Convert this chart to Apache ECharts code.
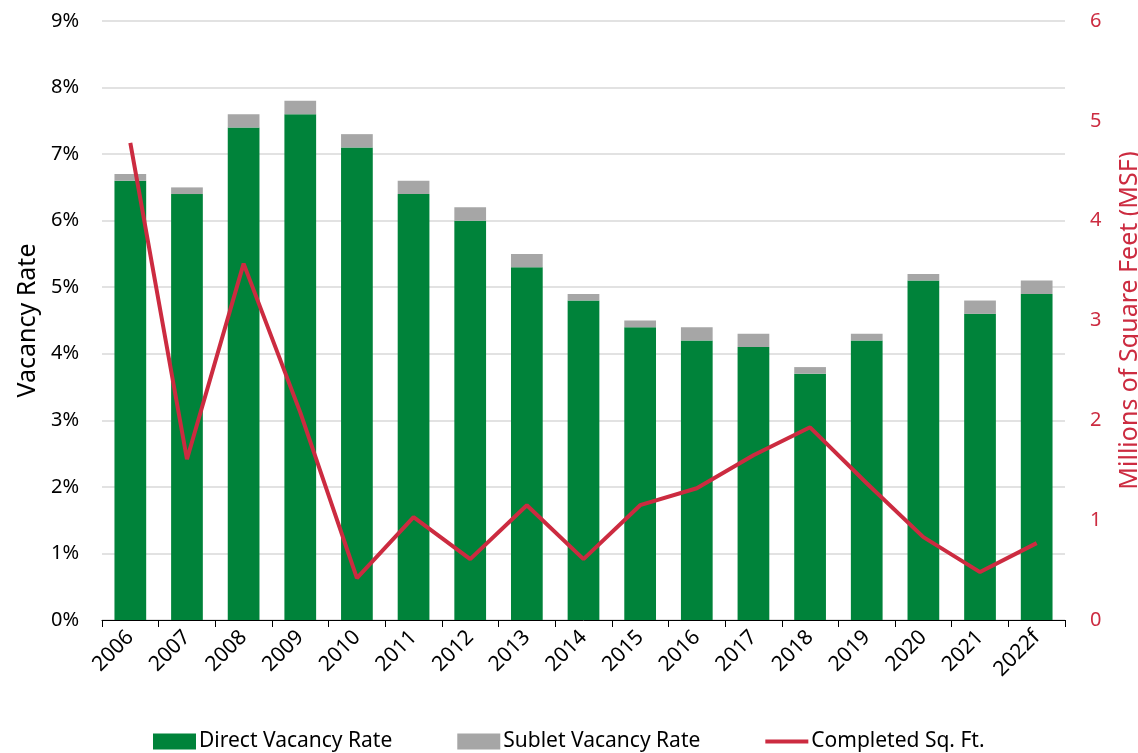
<!DOCTYPE html>
<html>
<head>
<meta charset="utf-8">
<title>Vacancy Rate and Completions</title>
<script src="https://cdn.jsdelivr.net/npm/echarts@6/dist/echarts.min.js"></script>
<style>
  html, body { margin: 0; padding: 0; background: #ffffff; }
  #chart { width: 1138px; height: 753px; }
</style>
</head>
<body>
<div id="chart"></div>
<script>
// Years (2022 is a forecast)
const years = ['2006','2007','2008','2009','2010','2011','2012','2013','2014','2015','2016','2017','2018','2019','2020','2021','2022f'];

// Vacancy rates, percent
const directVacancy = [6.6, 6.4, 7.4, 7.6, 7.1, 6.4, 6.0, 5.3, 4.8, 4.4, 4.2, 4.1, 3.7, 4.2, 5.1, 4.6, 4.9];
const subletVacancy = [0.1, 0.1, 0.2, 0.2, 0.2, 0.2, 0.2, 0.2, 0.1, 0.1, 0.2, 0.2, 0.1, 0.1, 0.1, 0.2, 0.2];

// Completed space, millions of square feet
const completedMSF = [4.78, 1.61, 3.57, 2.08, 0.42, 1.03, 0.61, 1.15, 0.61, 1.15, 1.32, 1.65, 1.93, 1.37, 0.83, 0.48, 0.77];

const FONT = '"Noto Sans", "Open Sans", sans-serif';
const GREEN = '#00833A';
const GREY = '#A6A6A6';
const RED = '#CC2B40';

const chart = echarts.init(document.getElementById('chart'), null, { renderer: 'canvas' });

chart.setOption({
  animation: false,
  backgroundColor: '#ffffff',
  textStyle: { fontFamily: FONT },
  grid: { left: 102, right: 73, top: 21, bottom: 133, containLabel: false, outerBoundsMode: 'none' },
  legend: {
    top: 731,
    left: 153,
    padding: 0,
    itemWidth: 43,
    itemHeight: 16,
    itemGap: 65,
    textStyle: { fontFamily: FONT, fontSize: 21, lineHeight: 18, color: '#000000', padding: [0, 0, 0, -2] },
    data: [
      { name: 'Direct Vacancy Rate', icon: 'rect' },
      { name: 'Sublet Vacancy Rate', icon: 'rect' },
      { name: 'Completed Sq. Ft.', icon: 'path://M0,0 L43,0 L43,4 L0,4 Z', itemStyle: { color: RED } }
    ]
  },
  xAxis: {
    type: 'category',
    data: years,
    boundaryGap: true,
    axisLine: { show: true, lineStyle: { color: '#000000', width: 1 } },
    axisTick: { show: true, alignWithLabel: false, length: 7, lineStyle: { color: '#000000' } },
    axisLabel: { rotate: 45, fontSize: 21, color: '#000000', fontFamily: FONT, margin: 14, interval: 0 },
    splitLine: { show: false }
  },
  yAxis: [
    {
      type: 'value',
      min: 0,
      max: 9,
      interval: 1,
      name: 'Vacancy Rate',
      nameLocation: 'middle',
      nameGap: 60,
      nameRotate: 90,
      nameTextStyle: { fontSize: 25, color: '#000000', fontFamily: FONT },
      axisLine: { show: false },
      axisTick: { show: false },
      axisLabel: { formatter: '{value}%', fontSize: 20, color: '#000000', fontFamily: FONT, margin: 23 },
      splitLine: { show: true, lineStyle: { color: '#D9D9D9', width: 1.5 } }
    },
    {
      type: 'value',
      min: 0,
      max: 6,
      interval: 1,
      position: 'right',
      name: 'Millions of Square Feet (MSF)',
      nameLocation: 'middle',
      nameGap: 52,
      nameRotate: 90,
      nameTextStyle: { fontSize: 25, color: RED, fontFamily: FONT },
      axisLine: { show: false },
      axisTick: { show: false },
      axisLabel: { fontSize: 20, color: RED, fontFamily: FONT, margin: 25 },
      splitLine: { show: false }
    }
  ],
  series: [
    {
      name: 'Direct Vacancy Rate',
      type: 'bar',
      stack: 'vacancy',
      yAxisIndex: 0,
      data: directVacancy,
      barWidth: '56%',
      itemStyle: { color: GREEN }
    },
    {
      name: 'Sublet Vacancy Rate',
      type: 'bar',
      stack: 'vacancy',
      yAxisIndex: 0,
      data: subletVacancy,
      barWidth: '56%',
      itemStyle: { color: GREY }
    },
    {
      name: 'Completed Sq. Ft.',
      type: 'line',
      yAxisIndex: 1,
      data: completedMSF,
      symbol: 'none',
      smooth: false,
      lineStyle: { color: RED, width: 4 },
      itemStyle: { color: RED },
      z: 5
    }
  ]
});
</script>
</body>
</html>
